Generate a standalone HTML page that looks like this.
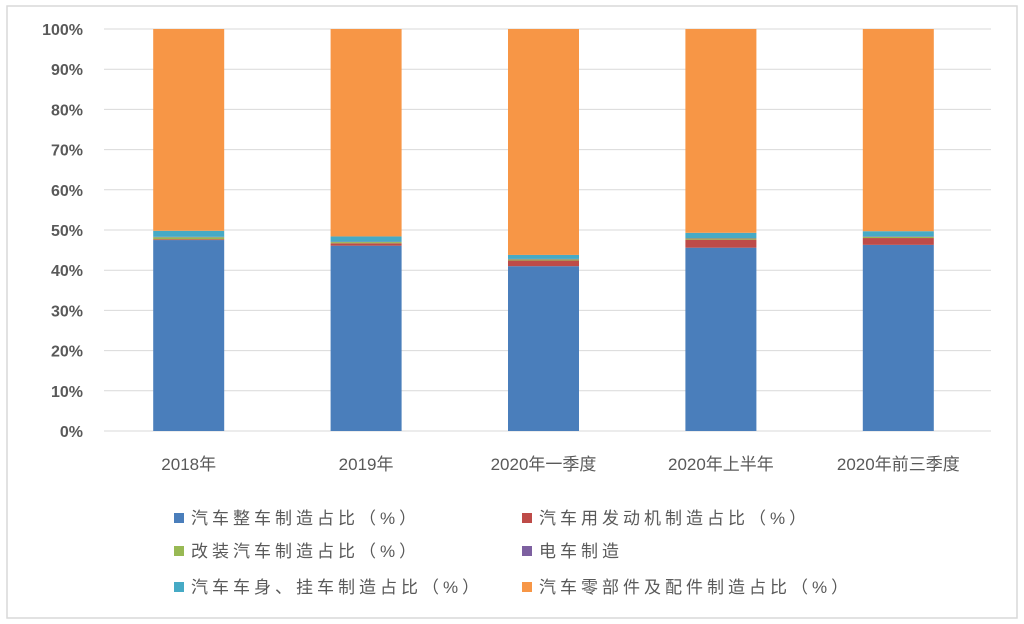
<!DOCTYPE html>
<html><head><meta charset="utf-8">
<style>
html,body{margin:0;padding:0;background:#fff;}
svg{display:block;}
text{font-family:"Liberation Sans","Noto Sans CJK SC",sans-serif;fill:#595959;}
</style></head>
<body>
<svg id="chart" width="1024" height="624" viewBox="0 0 1024 624" xmlns="http://www.w3.org/2000/svg">
<rect x="7" y="6" width="1010" height="612" fill="#fff" stroke="#d9d9d9" stroke-width="1.5"/>
<g id="grid"></g>
<g id="bars"></g>
<g id="legend"></g>
</svg>
<script>
const categories = ["2018年","2019年","2020年一季度","2020年上半年","2020年前三季度"];
const seriesNames = ["汽车整车制造占比（%）","汽车用发动机制造占比（%）","改装汽车制造占比（%）","电车制造","汽车车身、挂车制造占比（%）","汽车零部件及配件制造占比（%）"];
const seriesColors = ["#4a7ebb","#be4b48","#98b954","#7d60a0","#46aac5","#f79646"];
const vehicle = [47.5, 46.1, 41.0, 45.6, 46.3];
const engine = [0.2, 0.6, 1.4, 2.0, 1.7];
const modified = [0.5, 0.3, 0.3, 0.3, 0.3];
const tram = [0.1, 0.1, 0.1, 0.1, 0.1];
const body = [1.5, 1.3, 1.0, 1.3, 1.3];
const parts = categories.map((c,i)=>100-vehicle[i]-engine[i]-modified[i]-tram[i]-body[i]);
const series = [vehicle, engine, modified, tram, body, parts];
const yTicks = [0,10,20,30,40,50,60,70,80,90,100];

const NS="http://www.w3.org/2000/svg";
const x0=104, x1=991, y0=431, y1=29;
const yScale = v => y0 - (y0-y1)*v/100;
const band = (x1-x0)/categories.length;
const xCenter = i => x0 + band*(i+0.5) - 4;
const barW = 71;
function mk(tag, attrs, parent){const e=document.createElementNS(NS,tag);for(const k in attrs)e.setAttribute(k,attrs[k]);parent.appendChild(e);return e;}

const grid=document.getElementById('grid');
yTicks.forEach(t=>{
  const l=mk('line',{x1:x0,x2:x1,y1:yScale(t),y2:yScale(t),stroke:'#d9d9d9','stroke-width':1},grid);
  
  
  const tx=mk('text',{x:83,y:yScale(t)+6,'text-anchor':'end','font-size':16,'font-weight':'bold'},grid);
  tx.textContent=t+'%';
  
  
});

const bars=document.getElementById('bars');
categories.forEach((c,i)=>{
  let acc=0;
  series.forEach((s,k)=>{
    const v=s[i];
    const r=mk('rect',{x:xCenter(i)-barW/2,y:yScale(acc+v),width:barW,height:Math.max(0,yScale(acc)-yScale(acc+v)),fill:seriesColors[k]},bars);
    
    
    acc+=v;
  });
  const tx=mk('text',{x:xCenter(i),y:470,'text-anchor':'middle','font-size':17},bars);
  tx.textContent=c;
  
  
});

const legend=document.getElementById('legend');
const lx=[174,522], ly=[518,551,587];
seriesNames.forEach((n,k)=>{
  const col=k%2,row=Math.floor(k/2);
  const g=mk('g',{},legend);
  
  
  mk('rect',{x:lx[col],y:ly[row]-5,width:10,height:10,fill:seriesColors[k]},g);
  const t=mk('text',{x:lx[col]+17,y:ly[row]+6,'font-size':17,'letter-spacing':4},g);
  t.textContent=n;
});
</script>
</body></html>
